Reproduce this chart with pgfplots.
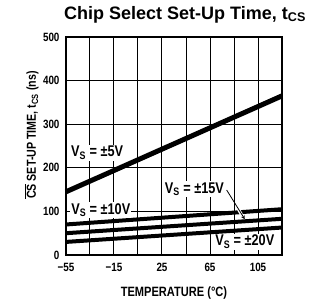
\documentclass[border=0pt]{standalone}
\usepackage{pgfplots}
\pgfplotsset{compat=1.18}
\usepackage{fontspec}
\setmainfont{Liberation Sans}
\newfontfamily\cf[FakeStretch=0.82]{Liberation Sans}
\newcommand{\ovl}[1]{\setbox0\hbox{#1}\rlap{\rule[\dimexpr\ht0+0.8pt\relax]{\wd0}{0.6pt}}\box0}
\begin{document}
\begin{tikzpicture}
\path[use as bounding box] (-66pt,-50pt) rectangle (247pt,255pt);
\begin{axis}[
  scale only axis, width=216pt, height=218pt,
  xmin=-55, xmax=125, ymin=0, ymax=500,
  xtick={-55,-35,-15,5,25,45,65,85,105,125},
  xticklabels={−55,,−15,,25,,65,,105,},
  ytick={0,100,200,300,400,500},
  yticklabels={0,100,200,300,400,500},
  xmajorgrids, ymajorgrids,
  major grid style={black, line width=1pt},
  axis line style={line width=1.5pt},
  major tick length=0pt,
  ticklabel style={font=\cf\bfseries\fontsize{12}{13}\selectfont},
  xticklabel style={yshift=-5pt},
  yticklabel style={xshift=-3pt},
  title={Chip Select Set-Up Time, t\textsubscript{CS}},
  title style={font=\bfseries\fontsize{18}{19}\selectfont, anchor=base west, at={(0,1)}, xshift=-2pt, yshift=12pt, inner sep=0pt},
  xlabel={TEMPERATURE (°C)},
  xlabel style={font=\cf\bfseries\fontsize{13.5}{14}\selectfont, anchor=center, at={(axis description cs:0.5,-0.175)}},
  ylabel={\ovl{CS}\ SET-UP TIME, t\textsubscript{CS} (ns)},
  ylabel style={font=\cf\bfseries\fontsize{13}{14}\selectfont, anchor=center, at={(axis description cs:-0.157,0.55)}},
  clip=false,
]
\addplot[black, line width=5pt] coordinates {(-55,145) (125,365)};
\addplot[black, line width=4pt] coordinates {(-55,70) (125,105)};
\addplot[black, line width=4pt] coordinates {(-55,50) (125,83)};
\addplot[black, line width=4pt] coordinates {(-55,30) (125,63)};
\draw[white, line width=3pt] (axis cs:88.8,104) -- (axis cs:91.2,93);
\draw[black, line width=0.8pt, -stealth] (axis cs:78.9,149) -- (axis cs:94,82);
\begin{scope}[every node/.style={font=\cf\bfseries\fontsize{15.5}{16}\selectfont, fill=white, inner sep=1pt}]
\node at (axis cs:-29,234) {V\textsubscript{S} = ±5V};
\node at (axis cs:-26,103) {V\textsubscript{S} = ±10V};
\node at (axis cs:52,151) {V\textsubscript{S} = ±15V};
\node at (axis cs:94,30) {V\textsubscript{S} = ±20V};
\end{scope}
\end{axis}
\end{tikzpicture}
\end{document}
